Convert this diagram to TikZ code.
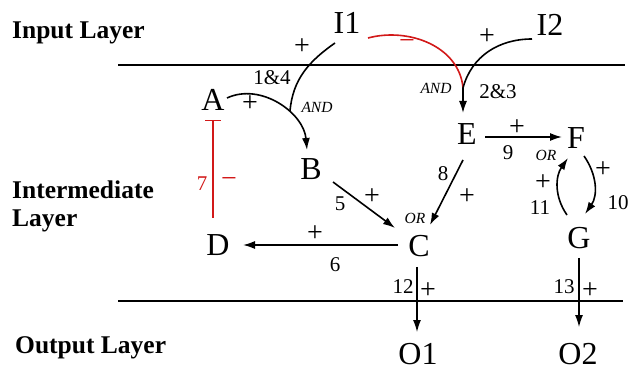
\documentclass[tikz,border=0pt]{standalone}
\usepackage{fontspec}
\setmainfont{Liberation Serif}
\usetikzlibrary{arrows.meta}
\definecolor{inhred}{RGB}{210,25,25}
\begin{document}
\begin{tikzpicture}[x=1pt,y=1pt,
  lbl/.style={font=\fontsize{25.5}{28}\selectfont\bfseries, anchor=base west, inner sep=0},
  nd/.style={font=\fontsize{32}{34}\selectfont, inner sep=0},
  pl/.style={font=\fontsize{28}{30}\selectfont, inner sep=0},
  num/.style={font=\fontsize{21}{22}\selectfont, inner sep=0},
  gate/.style={font=\fontsize{15.5}{16}\selectfont\itshape, inner sep=0},
  layerline/.style={line width=1.3pt},
  arr/.style={line width=1.6pt, -{Latex[length=12pt,width=8pt]}},
  thinarr/.style={line width=1.2pt, -{Latex[length=12pt,width=8pt]}},
  plain/.style={line width=1.6pt},
  inh/.style={line width=1.3pt, draw=inhred, -{Bar[width=16pt,line width=1.5pt]}},
  inhcurve/.style={line width=1.6pt, draw=inhred}
]
\useasboundingbox (0,0) rectangle (629,-371);

% layer labels
\node[lbl] (Lin) at (12,-39) {Input Layer};
\node[lbl] (Lint1) at (12,-199) {Intermediate};
\node[lbl] (Lint2) at (12,-227) {Layer};
\node[lbl] (Lout) at (15,-353) {Output Layer};

% layer lines
\coordinate (T1) at (118,-65);
\coordinate (T2) at (625,-65);
\coordinate (U1) at (118,-301);
\coordinate (U2) at (623,-301);
\draw[layerline] (T1) -- (T2);
\draw[layerline] (U1) -- (U2);

% nodes
\node[nd] (I1) at (347,-23) {I1};
\node[nd] (I2) at (550,-25) {I2};
\node[nd] (A) at (213,-100) {A};
\node[nd] (B) at (311,-169) {B};
\node[nd] (E) at (467,-134) {E};
\node[nd] (C) at (419,-246) {C};
\node[nd] (D) at (218,-245) {D};
\node[nd] (F) at (576,-138) {F};
\node[nd] (G) at (579,-238) {G};
\node[nd] (O1) at (418,-354) {O1};
\node[nd] (O2) at (578,-354) {O2};

% junctions
\coordinate (J1) at (290,-111);
\coordinate (J2) at (463,-88);

% A -> B (AND with I1)
\draw[arr] ([shift={(14,2)}]A.center) to[out=25,in=95] ([shift={(-4,19)}]B.center);
% I1 -> junction on A->B
\draw[plain] ([shift={(-12,-20)}]I1.center) to[out=215,in=85] (J1);
% I1 -| E (red, inhibitory)
\draw[inhcurve] ([shift={(21,-15)}]I1.center) to[out=15,in=95] (J2);
% I2 -> junction
\draw[plain] ([shift={(-18,-14)}]I2.center) to[out=180,in=75] (J2);
% junction -> E
\draw[arr] (J2) -- ([shift={(-4,21)}]E.center);

% A -| D
\draw[inh] ([shift={(-5,27)}]D.center) -- ([shift={(0,-20)}]A.center);

% B -> C
\draw[arr] ([shift={(22,-13)}]B.center) -- ([shift={(-24,18)}]C.center);
% E -> C
\draw[arr] ([shift={(-4,-26)}]E.center) -- ([shift={(11,21)}]C.center);
% C -> D
\draw[arr] ([shift={(-21,1)}]C.center) -- ([shift={(25,0)}]D.center);
% E -> F
\draw[arr] ([shift={(18,-3)}]E.center) -- ([shift={(-14,1)}]F.center);
% F -> G
\draw[arr] ([shift={(8,-18)}]F.center) to[out=-55,in=55] ([shift={(6,24)}]G.center);
% G -> F
\draw[arr] ([shift={(-12,23)}]G.center) to[out=125,in=235] ([shift={(-8,-20)}]F.center);
% C -> O1
\draw[thinarr] ([shift={(-2,-21)}]C.center) -- ([shift={(-1,22)}]O1.center);
% G -> O2
\draw[thinarr] ([shift={(0,-20)}]G.center) -- ([shift={(1,27)}]O2.center);

% edge labels
\node[pl] (p1) at (302,-47) {+};
\node[num] (n14) at (272,-78) {1\&4};
\node[gate] (g1) at (317,-107) {AND};
\node[pl] (p2) at (250,-104) {+};
\node[pl, text=inhred] (m1) at (407,-45) {\textminus};
\node[gate] (g2) at (436,-88) {AND};
\node[num] (n23) at (498,-92) {2\&3};
\node[pl] (p3) at (487,-37) {+};
\node[num, text=inhred] (n7) at (202,-184) {7};
\node[pl, text=inhred] (m2) at (229,-183) {\textminus};
\node[num] (n5) at (340,-204) {5};
\node[pl] (p5) at (372,-197) {+};
\node[num] (n8) at (443,-174) {8};
\node[pl] (p8) at (467,-197) {+};
\node[gate] (g3) at (415,-218) {OR};
\node[pl] (p6) at (315,-234) {+};
\node[num] (n6) at (335,-265) {6};
\node[pl] (p9) at (517,-128) {+};
\node[num] (n9) at (508,-153) {9};
\node[gate] (g4) at (546,-155) {OR};
\node[pl] (p10) at (603,-170) {+};
\node[num] (n10) at (618,-203) {10};
\node[pl] (p11) at (543,-183) {+};
\node[num] (n11) at (540,-208) {11};
\node[num] (n12) at (403,-287) {12};
\node[pl] (p12) at (428,-291) {+};
\node[num] (n13) at (564,-287) {13};
\node[pl] (p13) at (590,-291) {+};
\end{tikzpicture}
\end{document}
